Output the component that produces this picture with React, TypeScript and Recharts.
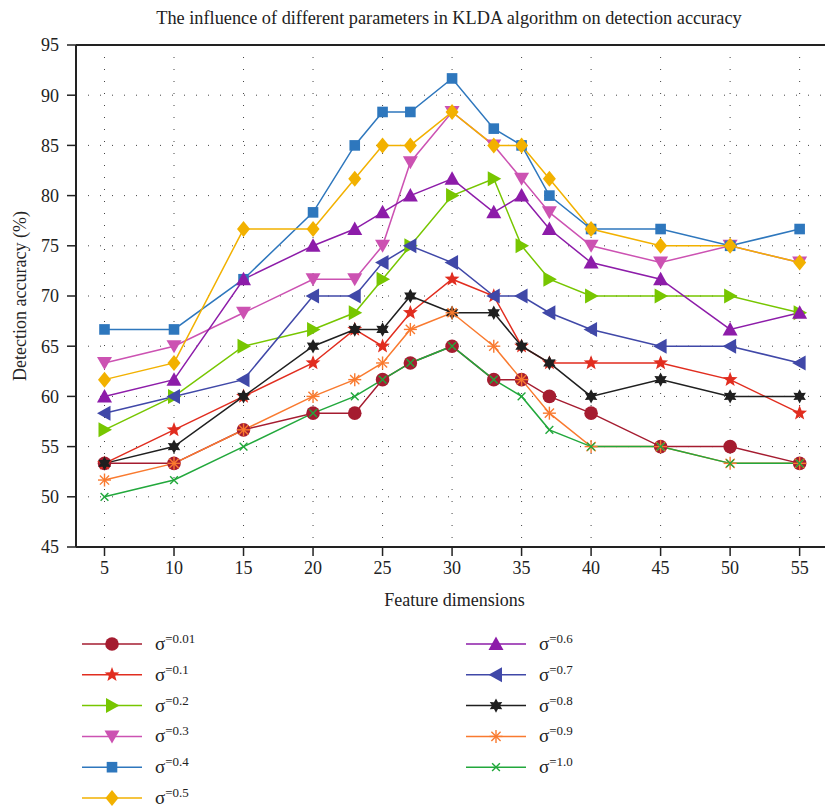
import { LineChart, Line, XAxis, YAxis, CartesianGrid, Legend, ReferenceLine } from 'recharts';

const SERIF = '"Liberation Serif", "DejaVu Serif", serif';
const INK = '#222';

// feature dimensions on the x axis
const DIMENSIONS = [5, 10, 15, 20, 23, 25, 27, 30, 33, 35, 37, 40, 45, 50, 55];
const X_TICKS = [5, 10, 15, 20, 25, 30, 35, 40, 45, 50, 55];
const Y_TICKS = [45, 50, 55, 60, 65, 70, 75, 80, 85, 90, 95];

// detection accuracy (%) for each sigma
const SIGMA_001 = [53.33, 53.33, 56.67, 58.33, 58.33, 61.67, 63.33, 65, 61.67, 61.67, 60, 58.33, 55, 55, 53.33];
const SIGMA_01 = [53.33, 56.67, 60, 63.33, 66.67, 65, 68.33, 71.67, 70, 65, 63.33, 63.33, 63.33, 61.67, 58.33];
const SIGMA_02 = [56.67, 60, 65, 66.67, 68.33, 71.67, 75, 80, 81.67, 75, 71.67, 70, 70, 70, 68.33];
const SIGMA_03 = [63.33, 65, 68.33, 71.67, 71.67, 75, 83.33, 88.33, 85, 81.67, 78.33, 75, 73.33, 75, 73.33];
const SIGMA_04 = [66.67, 66.67, 71.67, 78.33, 85, 88.33, 88.33, 91.67, 86.67, 85, 80, 76.67, 76.67, 75, 76.67];
const SIGMA_05 = [61.67, 63.33, 76.67, 76.67, 81.67, 85, 85, 88.33, 85, 85, 81.67, 76.67, 75, 75, 73.33];
const SIGMA_06 = [60, 61.67, 71.67, 75, 76.67, 78.33, 80, 81.67, 78.33, 80, 76.67, 73.33, 71.67, 66.67, 68.33];
const SIGMA_07 = [58.33, 60, 61.67, 70, 70, 73.33, 75, 73.33, 70, 70, 68.33, 66.67, 65, 65, 63.33];
const SIGMA_08 = [53.33, 55, 60, 65, 66.67, 66.67, 70, 68.33, 68.33, 65, 63.33, 60, 61.67, 60, 60];
const SIGMA_09 = [51.67, 53.33, 56.67, 60, 61.67, 63.33, 66.67, 68.33, 65, 61.67, 58.33, 55, 55, 53.33, 53.33];
const SIGMA_10 = [50, 51.67, 55, 58.33, 60, 61.67, 63.33, 65, 61.67, 60, 56.67, 55, 55, 53.33, 53.33];

type Shape = 'circle' | 'star' | 'right' | 'down' | 'square' | 'diamond' | 'up' | 'left' | 'hexagram' | 'asterisk' | 'cross';

const SERIES: { key: string; sigma: string; color: string; shape: Shape; values: number[] }[] = [
  { key: 's001', sigma: '0.01', color: '#a51c30', shape: 'circle', values: SIGMA_001 },
  { key: 's01', sigma: '0.1', color: '#e12d1f', shape: 'star', values: SIGMA_01 },
  { key: 's02', sigma: '0.2', color: '#77c600', shape: 'right', values: SIGMA_02 },
  { key: 's03', sigma: '0.3', color: '#cc52b2', shape: 'down', values: SIGMA_03 },
  { key: 's04', sigma: '0.4', color: '#2e77bd', shape: 'square', values: SIGMA_04 },
  { key: 's05', sigma: '0.5', color: '#f2b100', shape: 'diamond', values: SIGMA_05 },
  { key: 's06', sigma: '0.6', color: '#8d1ca9', shape: 'up', values: SIGMA_06 },
  { key: 's07', sigma: '0.7', color: '#4048a8', shape: 'left', values: SIGMA_07 },
  { key: 's08', sigma: '0.8', color: '#1f1f1f', shape: 'hexagram', values: SIGMA_08 },
  { key: 's09', sigma: '0.9', color: '#f97a2f', shape: 'asterisk', values: SIGMA_09 },
  { key: 's10', sigma: '1.0', color: '#22a83c', shape: 'cross', values: SIGMA_10 },
];

const data = DIMENSIONS.map((dim, i) => {
  const row: Record<string, number> = { dim };
  SERIES.forEach((s) => {
    row[s.key] = s.values[i];
  });
  return row;
});

const starPoints = (cx: number, cy: number, n: number, ro: number, ri: number) => {
  const pts: string[] = [];
  for (let i = 0; i < n * 2; i++) {
    const r = i % 2 === 0 ? ro : ri;
    const a = ((-90 + (i * 180) / n) * Math.PI) / 180;
    pts.push(`${cx + r * Math.cos(a)},${cy + r * Math.sin(a)}`);
  }
  return pts.join(' ');
};

const spokes = (cx: number, cy: number, r: number, angles: number[], color: string) =>
  angles.map((deg) => {
    const a = (deg * Math.PI) / 180;
    const dx = r * Math.cos(a);
    const dy = r * Math.sin(a);
    return (
      <line key={deg} x1={cx - dx} y1={cy - dy} x2={cx + dx} y2={cy + dy} stroke={color} strokeWidth={1.4} />
    );
  });

const Marker = ({ cx, cy, shape, color }: { cx: number; cy: number; shape: Shape; color: string }) => {
  switch (shape) {
    case 'circle':
      return <circle cx={cx} cy={cy} r={6.8} fill={color} />;
    case 'star':
      return <polygon points={starPoints(cx, cy, 5, 7.8, 3.3)} fill={color} />;
    case 'right':
      return <polygon points={`${cx - 6},${cy - 7.5} ${cx + 7.5},${cy} ${cx - 6},${cy + 7.5}`} fill={color} />;
    case 'down':
      return <polygon points={`${cx - 7.5},${cy - 6} ${cx + 7.5},${cy - 6} ${cx},${cy + 7}`} fill={color} />;
    case 'square':
      return <rect x={cx - 5.3} y={cy - 5.3} width={10.6} height={10.6} fill={color} />;
    case 'diamond':
      return <polygon points={`${cx},${cy - 8} ${cx + 6.5},${cy} ${cx},${cy + 8} ${cx - 6.5},${cy}`} fill={color} />;
    case 'up':
      return <polygon points={`${cx},${cy - 7.5} ${cx + 7.5},${cy + 6} ${cx - 7.5},${cy + 6}`} fill={color} />;
    case 'left':
      return <polygon points={`${cx + 6},${cy - 7.5} ${cx - 7.5},${cy} ${cx + 6},${cy + 7.5}`} fill={color} />;
    case 'hexagram':
      return <polygon points={starPoints(cx, cy, 6, 7.2, 4)} fill={color} />;
    case 'asterisk':
      return <g>{spokes(cx, cy, 6.5, [0, 45, 90, 135], color)}</g>;
    case 'cross':
      return <g>{spokes(cx, cy, 5.5, [45, 135], color)}</g>;
    default:
      return null;
  }
};

// two legend columns: six entries on the left, five on the right
const renderLegend = ({ payload }: { payload?: Array<{ dataKey?: string }> }) => {
  const items = (payload || []).map((p) => SERIES.find((s) => s.key === p.dataKey)).filter(Boolean) as typeof SERIES;
  return (
    <svg width={825} height={180}>
      {items.map((s, i) => {
        const col = i < 6 ? 0 : 1;
        const row = i < 6 ? i : i - 6;
        const x0 = col === 0 ? 74 : 458;
        const y = 15 + row * 30.8;
        return (
          <g key={s.key}>
            <line x1={x0} y1={y} x2={x0 + 60} y2={y} stroke={s.color} strokeWidth={1.5} />
            <Marker cx={x0 + 30} cy={y} shape={s.shape} color={s.color} />
            <text x={x0 + 73} y={y + 6} fill={INK} fontFamily={SERIF} fontSize={19}>
              σ
              <tspan fontSize={13} dy={-7}>
                ={s.sigma}
              </tspan>
            </text>
          </g>
        );
      })}
    </svg>
  );
};

export default function App() {
  return (
    <div style={{ position: 'relative', width: 825, height: 801, fontFamily: SERIF, color: INK }}>
      <div
        style={{
          position: 'absolute',
          top: 0,
          left: 441,
          transform: 'translateX(-50%)',
          whiteSpace: 'nowrap',
          fontSize: 18.3,
          lineHeight: '20px',
        }}
      >
        The influence of different parameters in KLDA algorithm on detection accuracy
      </div>
      <div
        style={{
          position: 'absolute',
          top: 288,
          left: 12,
          transform: 'translate(-50%, -50%) rotate(-90deg)',
          whiteSpace: 'nowrap',
          fontSize: 18,
          lineHeight: '20px',
        }}
      >
        Detection accuracy (%)
      </div>
      <LineChart width={825} height={801} data={data} margin={{ top: 37, right: 0, left: 6, bottom: 203 }}>
        <CartesianGrid stroke="#444" strokeDasharray="1 11" />
        <XAxis
          dataKey="dim"
          type="number"
          domain={[2.95, 57.4]}
          ticks={X_TICKS}
          allowDataOverflow
          height={59}
          tickSize={9}
          tickMargin={5}
          axisLine={{ stroke: INK, strokeWidth: 2 }}
          tickLine={{ stroke: INK, strokeWidth: 1.5 }}
          tick={{ fill: INK, fontSize: 18, fontFamily: SERIF }}
          label={{ value: 'Feature dimensions', position: 'insideBottom', offset: 0, fill: INK, fontSize: 18, fontFamily: SERIF }}
        />
        <YAxis
          type="number"
          domain={[45, 95]}
          ticks={Y_TICKS}
          width={62}
          tickSize={9}
          tickMargin={8}
          axisLine={{ stroke: INK, strokeWidth: 2 }}
          tickLine={{ stroke: INK, strokeWidth: 1.5 }}
          tick={{ fill: INK, fontSize: 18, fontFamily: SERIF }}
        />
        <ReferenceLine y={95} stroke={INK} strokeWidth={2} />
        <Legend
          layout="horizontal"
          verticalAlign="middle"
          align="center"
          wrapperStyle={{ top: 621, left: 0, width: 825, height: 180 }}
          content={renderLegend}
        />
        {SERIES.map((s) => (
          <Line
            key={s.key}
            dataKey={s.key}
            name={`σ=${s.sigma}`}
            stroke={s.color}
            strokeWidth={1.5}
            isAnimationActive={false}
            activeDot={false}
            dot={(p: { cx: number; cy: number; index: number }) => (
              <Marker key={`${s.key}-${p.index}`} cx={p.cx} cy={p.cy} shape={s.shape} color={s.color} />
            )}
          />
        ))}
      </LineChart>
    </div>
  );
}
